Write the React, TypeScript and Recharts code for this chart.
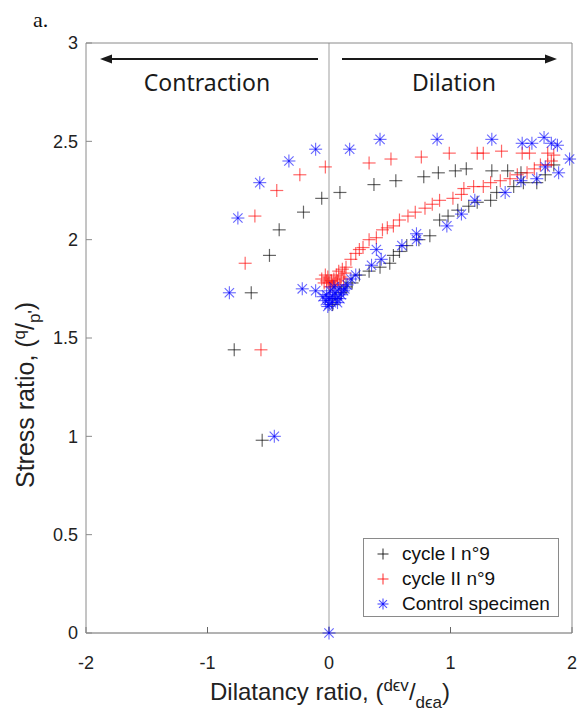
import { Legend, ReferenceLine, Scatter, ScatterChart, XAxis, YAxis } from 'recharts'

const xTicks = [-2, -1, 0, 1, 2]
const yTicks = [0, 0.5, 1, 1.5, 2, 2.5, 3]

// [dilatancy ratio, stress ratio]
const cycleOnePoints: [number, number][] = [
  [-0.55, 0.98], [-0.78, 1.44], [-0.64, 1.73], [-0.49, 1.92], [-0.41, 2.05], [-0.21, 2.14],
  [-0.06, 2.21], [0.09, 2.24], [0.37, 2.28], [0.55, 2.3], [0.78, 2.32], [0.9, 2.34],
  [1.04, 2.35], [1.13, 2.36], [1.34, 2.35], [1.47, 2.35], [1.58, 2.34], [1.71, 2.29],
  [1.78, 2.33], [1.85, 2.38], [1.6, 2.29], [1.52, 2.27], [1.38, 2.24], [1.33, 2.2],
  [1.22, 2.19], [1.15, 2.17], [1.06, 2.15], [0.98, 2.12], [0.91, 2.1], [0.83, 2.02],
  [0.74, 2.0], [0.64, 1.97], [0.58, 1.94], [0.53, 1.92], [0.5, 1.88], [0.42, 1.86],
  [0.33, 1.84], [0.25, 1.82], [0.19, 1.78], [0.14, 1.76], [0.1, 1.73], [0.05, 1.7], [0.03, 1.67],
]

const cycleTwoPoints: [number, number][] = [
  [-0.56, 1.44], [-0.69, 1.88], [-0.61, 2.12], [-0.43, 2.25], [-0.24, 2.33], [-0.03, 2.37],
  [0.33, 2.39], [0.51, 2.41], [0.76, 2.42], [0.99, 2.44], [1.22, 2.44], [1.27, 2.44],
  [1.42, 2.45], [1.59, 2.44], [1.65, 2.44], [1.8, 2.44], [1.85, 2.43], [1.83, 2.4],
  [1.8, 2.38], [1.74, 2.38], [1.69, 2.36], [1.63, 2.34], [1.55, 2.33], [1.49, 2.31],
  [1.41, 2.3], [1.33, 2.29], [1.27, 2.27], [1.19, 2.27], [1.11, 2.26], [1.09, 2.23],
  [1.02, 2.21], [0.91, 2.2], [0.85, 2.18], [0.79, 2.16], [0.71, 2.14], [0.65, 2.12],
  [0.58, 2.1], [0.53, 2.07], [0.48, 2.06], [0.44, 2.05], [0.39, 2.01], [0.33, 2.0],
  [0.28, 1.96], [0.25, 1.95], [0.22, 1.93], [0.18, 1.9], [0.14, 1.86], [0.11, 1.85],
  [0.08, 1.84], [0.06, 1.82], [0.1, 1.81], [0.04, 1.8], [0.02, 1.79], [0.0, 1.78],
  [-0.02, 1.79], [0.03, 1.77], [0.07, 1.79], [-0.01, 1.81], [0.05, 1.78], [0.12, 1.8],
  [-0.04, 1.78], [0.01, 1.76], [-0.06, 1.8], [0.09, 1.77], [0.13, 1.83], [-0.03, 1.82],
]

const controlPoints: [number, number][] = [
  [0.0, 0.0], [-0.45, 1.0], [-0.82, 1.73], [-0.75, 2.11], [-0.57, 2.29], [-0.33, 2.4],
  [-0.11, 2.46], [0.17, 2.46], [0.42, 2.51], [0.89, 2.51], [1.34, 2.51], [1.59, 2.49],
  [1.67, 2.49], [1.77, 2.52], [1.83, 2.49], [1.88, 2.48], [1.98, 2.41], [1.89, 2.34],
  [1.78, 2.37], [1.71, 2.31], [1.58, 2.3], [1.45, 2.24], [1.2, 2.2], [1.09, 2.13],
  [0.97, 2.07], [0.72, 2.03], [0.72, 2.0], [0.6, 1.97], [0.43, 1.9], [0.39, 1.95],
  [0.35, 1.87], [0.22, 1.82], [0.18, 1.8], [0.12, 1.74], [-0.22, 1.75], [-0.11, 1.74],
  [-0.05, 1.71], [0.0, 1.7], [0.02, 1.68], [-0.02, 1.72], [0.05, 1.73], [0.08, 1.75],
  [0.03, 1.71], [-0.03, 1.69], [0.0, 1.67], [0.06, 1.7], [0.1, 1.72], [0.04, 1.76],
  [0.15, 1.77], [0.01, 1.74], [0.07, 1.68], [-0.01, 1.66], [0.09, 1.7], [0.13, 1.75],
]

const seriesNames = ['cycle I n°9', 'cycle II n°9', 'Control specimen']
const seriesColors = ['#000000', '#ff0000', '#0000ff']
const seriesMarkers = ['plus', 'plus', 'star']

const toXY = (pairs: [number, number][]) => pairs.map(([x, y]) => ({ x, y }))

const tickFont = { fontFamily: 'Liberation Sans, Arial, sans-serif', fontSize: 18, fill: '#222' }
const frameColor = '#8a8a8a'

function Marker({ cx, cy, kind, color, opacity = 0.6, r = 6 }: any) {
  if (cx == null || cy == null) return null
  if (kind === 'star') {
    const d = r * 0.72
    return (
      <g stroke={color} strokeWidth={1.1} strokeOpacity={opacity}>
        <line x1={cx - r} x2={cx + r} y1={cy} y2={cy} />
        <line x1={cx} x2={cx} y1={cy - r} y2={cy + r} />
        <line x1={cx - d} x2={cx + d} y1={cy - d} y2={cy + d} />
        <line x1={cx - d} x2={cx + d} y1={cy + d} y2={cy - d} />
      </g>
    )
  }
  return (
    <g stroke={color} strokeWidth={1.2} strokeOpacity={opacity}>
      <line x1={cx - r} x2={cx + r} y1={cy} y2={cy} />
      <line x1={cx} x2={cx} y1={cy - r} y2={cy + r} />
    </g>
  )
}

function LegendBox() {
  return (
    <div
      style={{
        border: '1px solid #8a8a8a',
        background: '#fff',
        padding: '2px 0 3px 0',
        fontFamily: 'Liberation Sans, Arial, sans-serif',
        fontSize: 19,
        color: '#111',
        boxSizing: 'border-box',
        height: 79,
      }}
    >
      {seriesNames.map((name, i) => (
        <div key={name} style={{ display: 'flex', alignItems: 'center', height: 25, whiteSpace: 'nowrap' }}>
          <svg width={36} height={20} style={{ flex: 'none' }}>
            <Marker cx={19} cy={10} kind={seriesMarkers[i]} color={seriesColors[i]} r={5.5} opacity={0.7} />
          </svg>
          <span style={{ marginLeft: 2 }}>{name}</span>
        </div>
      ))}
    </div>
  )
}

const series = [cycleOnePoints, cycleTwoPoints, controlPoints]
const emptyTick = () => <g />

export default function App() {
  return (
    <div style={{ position: 'absolute', left: 0, top: 0, width: 585, height: 712, background: '#fff' }}>
      <ScatterChart width={585} height={712} margin={{ top: 42, right: 12, bottom: 49, left: 46 }}>
        <XAxis
          type="number"
          dataKey="x"
          domain={[-2, 2]}
          ticks={xTicks}
          height={30}
          tickSize={-6}
          tickMargin={29}
          stroke="#666"
          tick={tickFont}
        />
        <XAxis
          xAxisId="top"
          orientation="top"
          type="number"
          dataKey="x"
          domain={[-2, 2]}
          ticks={xTicks}
          height={1}
          tickSize={-6}
          stroke={frameColor}
          tick={emptyTick}
        />
        <YAxis
          type="number"
          dataKey="y"
          domain={[0, 3]}
          ticks={yTicks}
          width={40}
          tickSize={-6}
          tickMargin={14}
          stroke={frameColor}
          tick={tickFont}
        />
        <YAxis
          yAxisId="right"
          orientation="right"
          type="number"
          dataKey="y"
          domain={[0, 3]}
          ticks={yTicks}
          width={1}
          tickSize={-6}
          stroke={frameColor}
          tick={emptyTick}
        />
        <ReferenceLine x={0} stroke="#cfcfcf" strokeWidth={2} />
        {series.map((pts, i) => (
          <Scatter
            key={seriesNames[i]}
            name={seriesNames[i]}
            data={toXY(pts)}
            fill={seriesColors[i]}
            isAnimationActive={false}
            shape={(p: any) => (
              <Marker cx={p.cx} cy={p.cy} kind={seriesMarkers[i]} color={seriesColors[i]} r={6.5} />
            )}
          />
        ))}
        <Legend
          layout="horizontal"
          verticalAlign="middle"
          align="center"
          content={() => <LegendBox />}
          wrapperStyle={{ left: 363, top: 538, width: 196 }}
        />
      </ScatterChart>
      <svg
        width={585}
        height={712}
        style={{ position: 'absolute', left: 0, top: 0, pointerEvents: 'none' }}
      >
        <text x={33} y={27} fontFamily="Liberation Serif, Times New Roman, serif" fontSize={22} fill="#111">
          a.
        </text>
        <line x1={108} x2={318} y1={59} y2={59} stroke="#1a1a1a" strokeWidth={2} />
        <polygon points="100,59 112,54.5 112,63.5" fill="#1a1a1a" />
        <line x1={342} x2={549} y1={59} y2={59} stroke="#1a1a1a" strokeWidth={2} />
        <polygon points="557,59 545,54.5 545,63.5" fill="#1a1a1a" />
        <text x={207} y={91} textAnchor="middle" fontFamily="Noto Sans, sans-serif" fontSize={23} fill="#1a1a1a">
          Contraction
        </text>
        <text x={454} y={91} textAnchor="middle" fontFamily="Noto Sans, sans-serif" fontSize={23} fill="#1a1a1a">
          Dilation
        </text>
        <text
          x={34}
          y={395}
          transform="rotate(-90 34 395)"
          textAnchor="middle"
          fontFamily="Liberation Sans, Arial, sans-serif"
          fontSize={25}
          fill="#222"
        >
          Stress ratio, (
          <tspan fontSize={17} dy={-9}>q</tspan>
          <tspan dy={9}>/</tspan>
          <tspan fontSize={17} dy={6}>p'</tspan>
          <tspan dy={-6}>)</tspan>
        </text>
        <text
          x={330}
          y={700}
          textAnchor="middle"
          fontFamily="Liberation Sans, Arial, sans-serif"
          fontSize={24}
          fill="#222"
        >
          Dilatancy ratio, (
          <tspan fontSize={17} dy={-9}>dϵv</tspan>
          <tspan dy={9}>/</tspan>
          <tspan fontSize={17} dy={8}>dϵa</tspan>
          <tspan dy={-8}>)</tspan>
        </text>
      </svg>
    </div>
  )
}
